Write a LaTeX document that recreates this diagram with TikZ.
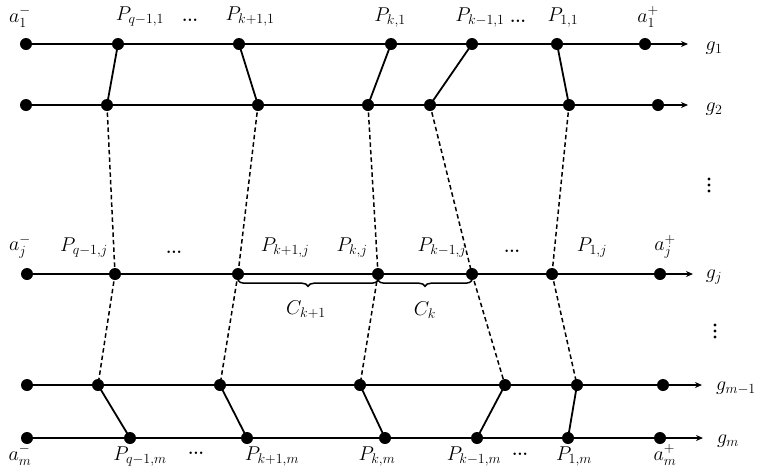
\documentclass[tikz,border=0pt]{standalone}
\usepackage{fix-cm}
\usetikzlibrary{arrows.meta,decorations.pathreplacing}
\begin{document}
\begin{tikzpicture}[x=1pt,y=-1pt,
  dot/.style={circle,fill=black,draw=none,minimum size=12pt,inner sep=0pt},
  glin/.style={line width=2pt,-{Stealth[length=7pt,width=6pt]}},
  link/.style={line width=1.8pt},
  dlink/.style={line width=1.5pt,dash pattern=on 4.5pt off 3pt},
  lab/.style={font=\fontsize{20}{24}\selectfont,inner sep=0pt},
  ell/.style={font=\fontsize{17}{20}\selectfont\bfseries,inner sep=0pt},
  brc/.style={line width=1.5pt,decorate,decoration={brace,mirror,amplitude=6pt}}]
\useasboundingbox (0,0) rectangle (759,467);
% dots
\foreach \x [count=\i from 0] in {26,118,239,391,472,557,645} \node[dot] (a-\i) at (\x,44) {};
\foreach \x [count=\i from 0] in {26,107,258,368,430,569,658} \node[dot] (b-\i) at (\x,105) {};
\foreach \x [count=\i from 0] in {27,115,238,378,472,552,660} \node[dot] (c-\i) at (\x,274) {};
\foreach \x [count=\i from 0] in {27,98,220,360,505,577,663} \node[dot] (d-\i) at (\x,385) {};
\foreach \x [count=\i from 0] in {27,130,247,385,477,568,660} \node[dot] (e-\i) at (\x,438) {};
% line ends
\coordinate (a-end) at (688,44);
\coordinate (b-end) at (688,105);
\coordinate (c-end) at (693,274);
\coordinate (d-end) at (702,385);
\coordinate (e-end) at (703,438);
\foreach \r in {a,b,c,d,e} \draw[glin] (\r-0.center) -- (\r-end);
% connectors
\foreach \i in {1,...,5} {
  \draw[link] (a-\i.center) -- (b-\i.center);
  \draw[dlink] (b-\i.center) -- (c-\i.center);
  \draw[dlink] (c-\i.center) -- (d-\i.center);
  \draw[link] (d-\i.center) -- (e-\i.center);
}
% braces
\draw[brc] (c-2.south) -- (c-3.south);
\draw[brc] (c-3.south) -- (c-4.south);
\node[lab] (ck1) at (306,310) {$C_{k+1}$};
\node[lab] (ck) at (425,310) {$C_k$};
% top labels
\node[lab] (la1m) at (20,17) {$a_1^-$};
\node[lab] (lq1) at (140,17) {$P_{q-1,1}$};
\node[ell] (ld1) at (190,20) {...};
\node[lab] (lk11) at (250,17) {$P_{k+1,1}$};
\node[lab] (lk1) at (390,18) {$P_{k,1}$};
\node[lab] (lkm11) at (480,18) {$P_{k-1,1}$};
\node[ell] (ld2) at (518,21) {...};
\node[lab] (l11) at (563,18) {$P_{1,1}$};
\node[lab] (la1p) at (648,17) {$a_1^+$};
% j labels
\node[lab] (lajm) at (20,247) {$a_j^-$};
\node[lab] (lqj) at (84,248) {$P_{q-1,j}$};
\node[ell] (ldj1) at (174,252) {...};
\node[lab] (lk1j) at (285,248) {$P_{k+1,j}$};
\node[lab] (lkj) at (352,248) {$P_{k,j}$};
\node[lab] (lkm1j) at (442,248) {$P_{k-1,j}$};
\node[ell] (ldj2) at (512,251) {...};
\node[lab] (l1j) at (592,248) {$P_{1,j}$};
\node[lab] (lajp) at (665,247) {$a_j^+$};
% bottom labels
\node[lab] (lamm) at (20,455) {$a_m^-$};
\node[lab] (lqm) at (140,457) {$P_{q-1,m}$};
\node[ell] (ldm1) at (196,453) {...};
\node[lab] (lk1m) at (272,457) {$P_{k+1,m}$};
\node[lab] (lkm) at (377,457) {$P_{k,m}$};
\node[lab] (lkm1m) at (474,457) {$P_{k-1,m}$};
\node[ell] (ldm2) at (520,454) {...};
\node[lab] (l1m) at (574,457) {$P_{1,m}$};
\node[lab] (lamp) at (665,455) {$a_m^+$};
% line names
\node[lab] (g1) at (714,48) {$g_1$};
\node[lab] (g2) at (714,109) {$g_2$};
\node[lab] (gj) at (714,277) {$g_j$};
\node[lab] (gm1) at (736,388) {$g_{m-1}$};
\node[lab] (gm) at (728,441) {$g_m$};
% vertical ellipses
\foreach \yy in {179,185,191} \fill (709,\yy) circle (1.6pt);
\foreach \yy in {325,331,337} \fill (715,\yy) circle (1.6pt);
\end{tikzpicture}
\end{document}
